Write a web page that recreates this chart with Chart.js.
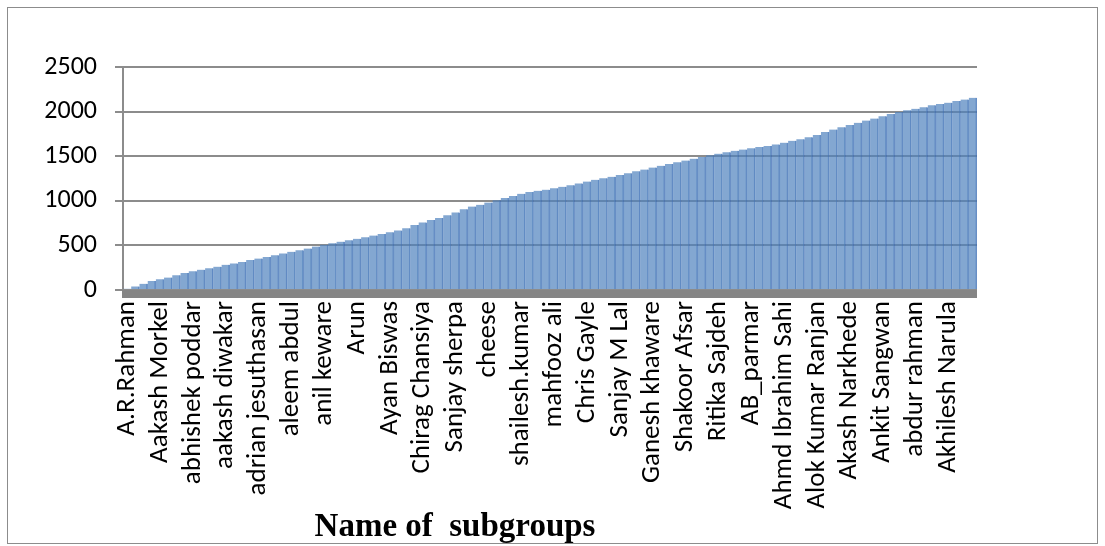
<!DOCTYPE html>
<html>
<head>
<meta charset="utf-8">
<script src="https://cdn.jsdelivr.net/npm/chart.js@4.4.1/dist/chart.umd.min.js"></script>
<style>
  html, body { margin: 0; padding: 0; background: #fff; }
  #frame { position: absolute; left: 7px; top: 7px; width: 1089px; height: 535px; border: 1px solid #8c8c8c; }
  #wrap { position: absolute; left: 0; top: 0; width: 1105px; height: 546px; }
</style>
</head>
<body>
<div id="frame"></div>
<div id="wrap"><canvas id="c" width="1105" height="546"></canvas></div>
<script>
// Subgroup names printed under the axis (one every few bars)
const subgroupNames = [
  'A.R.Rahman', 'Aakash Morkel', 'abhishek poddar', 'aakash diwakar', 'adrian jesuthasan',
  'aleem abdul', 'anil keware', 'Arun', 'Ayan Biswas', 'Chirag Chansiya', 'Sanjay sherpa',
  'cheese', 'shailesh.kumar', 'mahfooz ali', 'Chris Gayle', 'Sanjay M Lal', 'Ganesh khaware',
  'Shakoor Afsar', 'Ritika Sajdeh', 'AB_parmar', 'Ahmd Ibrahim Sahi', 'Alok Kumar Ranjan',
  'Akash Narkhede', 'Ankit Sangwan', 'abdur rahman', 'Akhilesh Narula'
];
const barsPerName = 4;

// Bar heights, left to right
const memberCounts = [
    15,   40,   70,  100,  120,  140,  165,  190,  210,  228,
   245,  262,  282,  298,  315,  335,  352,  370,  390,  410,
   428,  445,  465,  488,  508,  525,  542,  558,  575,  592,
   610,  628,  648,  668,  692,  728,  758,  785,  808,  838,
   870,  905,  935,  955,  980, 1005, 1030, 1055, 1078, 1098,
  1112, 1125, 1142, 1158, 1175, 1195, 1215, 1235, 1252, 1270,
  1288, 1310, 1330, 1350, 1372, 1392, 1412, 1432, 1452, 1472,
  1492, 1510, 1528, 1545, 1560, 1575, 1590, 1602, 1615, 1632,
  1652, 1672, 1690, 1712, 1738, 1770, 1798, 1825, 1850, 1875,
  1900, 1922, 1948, 1972, 1995, 2015, 2032, 2050, 2070, 2085,
  2100, 2118, 2135, 2155
];

const yMin = 0;
const yMax = 2500;
const yStep = 500;
const axisTitle = 'Name of  subgroups';
const labelFont = 'Carlito, Lato, "Open Sans", sans-serif';

const categories = memberCounts.map((v, i) =>
  i % barsPerName === 0 ? subgroupNames[i / barsPerName] : '');

// Grey floor under the bars plus the axis title
const floorAndTitle = {
  id: 'floorAndTitle',
  afterDatasetsDraw(chart) {
    const { ctx, chartArea } = chart;
    ctx.save();
    ctx.fillStyle = '#858585';
    ctx.fillRect(chartArea.left - 1, chartArea.bottom, chartArea.right - chartArea.left + 1, 8);
    ctx.restore();
  },
  afterDraw(chart) {
    const { ctx } = chart;
    ctx.save();
    ctx.font = 'bold 33px "Liberation Serif", "Times New Roman", serif';
    ctx.fillStyle = '#000';
    ctx.textAlign = 'center';
    ctx.textBaseline = 'alphabetic';
    ctx.fillText(axisTitle, 455, 536);
    ctx.restore();
  }
};

new Chart(document.getElementById('c'), {
  type: 'bar',
  data: {
    labels: categories,
    datasets: [{
      data: memberCounts,
      backgroundColor: 'rgba(79,129,189,0.7)',
      borderColor: 'rgba(62,108,180,0.75)',
      borderWidth: { top: 0, right: 1, bottom: 0, left: 0 },
      borderSkipped: false,
      barPercentage: 1,
      categoryPercentage: 1
    }]
  },
  options: {
    responsive: false,
    animation: false,
    devicePixelRatio: 1,
    layout: { padding: { top: 67, right: 128, bottom: 0, left: 8 } },
    plugins: { legend: { display: false }, tooltip: { enabled: false } },
    scales: {
      x: {
        grid: { display: false, drawTicks: false },
        border: { display: false },
        ticks: {
          autoSkip: false,
          maxRotation: 90,
          minRotation: 90,
          padding: 11,
          color: '#000',
          font: { family: labelFont, size: 27 }
        },
        afterFit(scale) { scale.height = 256; }
      },
      y: {
        min: yMin,
        max: yMax,
        grid: { color: '#8c8c8c', lineWidth: 2, tickLength: 8 },
        border: { display: true, color: '#8c8c8c', width: 2 },
        ticks: {
          stepSize: yStep,
          padding: 18,
          color: '#000',
          font: { family: labelFont, size: 26 },
          callback: (v) => String(v)
        },
        afterFit(scale) { scale.width = 115; }
      }
    }
  },
  plugins: [floorAndTitle]
});
</script>
</body>
</html>
